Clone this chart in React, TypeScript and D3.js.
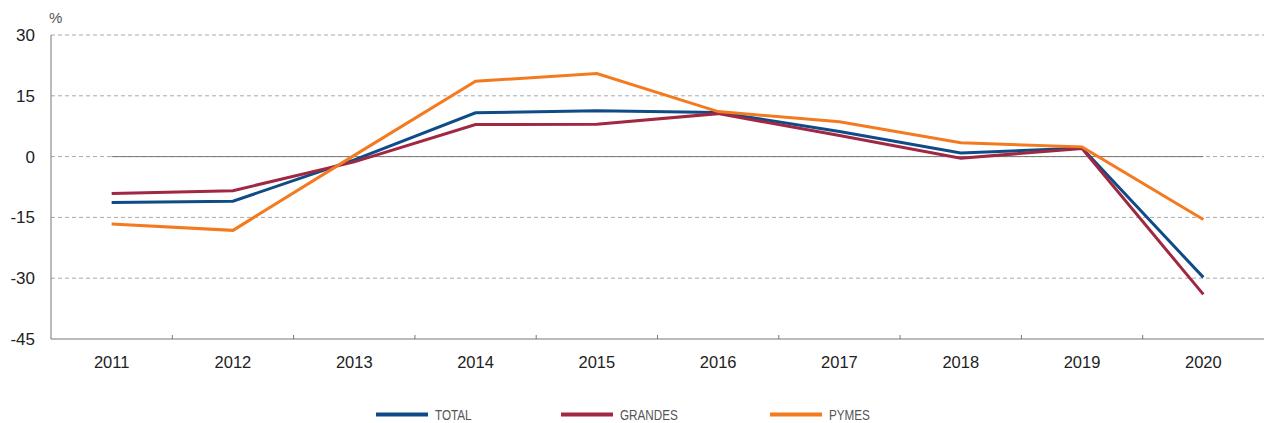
import React from "react";
import * as d3 from "d3";

const years = ["2011", "2012", "2013", "2014", "2015", "2016", "2017", "2018", "2019", "2020"];
const totalValues = [-11.3, -11.0, -0.8, 10.8, 11.3, 10.9, 6.2, 0.9, 2.1, -29.8];
const grandesValues = [-9.1, -8.4, -1.3, 7.9, 8.0, 10.6, 5.2, -0.4, 2.0, -34.0];
const pymesValues = [-16.6, -18.2, 0.3, 18.6, 20.5, 11.1, 8.6, 3.4, 2.4, -15.5];
const yTicks = [30, 15, 0, -15, -30, -45];
const seriesNames = ["TOTAL", "GRANDES", "PYMES"];
const seriesColors = ["#0f4c87", "#a02842", "#f47a20"];

const W = 1268;
const H = 423;
const left = 51;
const right = 1264;
const top = 35;
const bottom = 339;

export default function App() {
  const x = d3.scaleBand<string>().domain(years).range([left, right]).padding(0);
  const y = d3.scaleLinear().domain([-45, 30]).range([bottom, top]);
  const cx = (yr: string) => (x(yr) as number) + x.bandwidth() / 2;
  const line = d3
    .line<number>()
    .x((_, i) => cx(years[i]))
    .y((v) => y(v));
  const all = [totalValues, grandesValues, pymesValues];
  const legendX = [376, 561, 770];
  const font = "'Liberation Sans', Arial, Helvetica, sans-serif";

  return (
    <svg
      width={W}
      height={H}
      style={{ position: "absolute", left: 0, top: 0, display: "block" }}
    >
      <rect x={0} y={0} width={W} height={H} fill="#fff" />
      <text x={49} y={23} fontSize={15} fill="#555" fontFamily={font}>
        %
      </text>
      {yTicks.map((t) => (
        <g key={t}>
          {t !== -45 && (
            <line
              x1={left}
              x2={right}
              y1={y(t)}
              y2={y(t)}
              stroke="#aaa"
              strokeWidth={1}
              strokeDasharray="4,3"
            />
          )}
          <text
            x={35}
            y={y(t) + 6}
            textAnchor="end"
            fontSize={17}
            fill="#222"
            fontFamily={font}
          >
            {t}
          </text>
        </g>
      ))}
      <line
        x1={cx(years[0])}
        x2={cx(years[years.length - 1])}
        y1={y(0)}
        y2={y(0)}
        stroke="#777"
        strokeWidth={1}
      />
      <line x1={left} x2={left} y1={top} y2={bottom} stroke="#777" strokeWidth={1} />
      <line x1={left} x2={right} y1={bottom} y2={bottom} stroke="#777" strokeWidth={1} />
      {years.map((yr, i) => (
        <g key={yr}>
          {i > 0 && (
            <line
              x1={x(yr) as number}
              x2={x(yr) as number}
              y1={bottom}
              y2={bottom - 4}
              stroke="#777"
              strokeWidth={1}
            />
          )}
          <text
            x={cx(yr)}
            y={368}
            textAnchor="middle"
            fontSize={16.5}
            fill="#222"
            fontFamily={font}
          >
            {yr}
          </text>
        </g>
      ))}
      {all.map((vals, i) => (
        <path
          key={seriesNames[i]}
          d={line(vals) || ""}
          fill="none"
          stroke={seriesColors[i]}
          strokeWidth={3}
          strokeLinejoin="miter"
        />
      ))}
      {seriesNames.map((name, i) => (
        <g key={name}>
          <line
            x1={legendX[i]}
            x2={legendX[i] + 52}
            y1={414.5}
            y2={414.5}
            stroke={seriesColors[i]}
            strokeWidth={4}
          />
          <text
            transform={`translate(${legendX[i] + 59},420) scale(0.78,1)`}
            fontSize={15}
            fill="#555"
            fontFamily={font}
          >
            {name}
          </text>
        </g>
      ))}
    </svg>
  );
}
